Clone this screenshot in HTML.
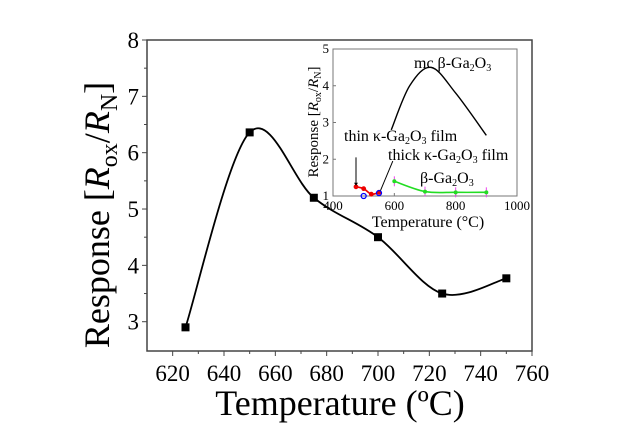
<!DOCTYPE html>
<html><head><meta charset="utf-8"><style>
body{margin:0;background:#fff}
svg{font-family:"Liberation Serif",serif}
</style></head><body>
<svg width="643" height="441" viewBox="0 0 643 441">
<g id="main"></g>
<g id="inset"></g>
</svg>
<script>
const mainX=[625,650,675,700,725,750];
const mainY=[2.9,6.36,5.2,4.5,3.5,3.77];
const mainXTicks=[620,640,660,680,700,720,740,760];
const mainYTicks=[3,4,5,6,7,8];
const insetXTicks=[400,600,800,1000];
const insetYTicks=[1,2,3,4,5];
const mcX=[590,650,720,800,900];
const mcY=[2.8,4.0,4.5,3.8,2.65];
const thinX=[475,500,525,550];
const thinY=[1.25,1.2,1.05,1.1];
const thickX=[500,550];
const thickY=[1.0,1.08];
const betaX=[600,700,800,900];
const betaY=[1.4,1.12,1.1,1.1];
const NS="http://www.w3.org/2000/svg";
function mk(p,t,a){const e=document.createElementNS(NS,t);for(const k in a)e.setAttribute(k,a[k]);p.appendChild(e);return e;}
function spline(pts){let d=`M${pts[0][0]},${pts[0][1]}`;for(let i=0;i<pts.length-1;i++){const p0=pts[Math.max(0,i-1)],p1=pts[i],p2=pts[i+1],p3=pts[Math.min(pts.length-1,i+2)];d+=` C${p1[0]+(p2[0]-p0[0])/6},${p1[1]+(p2[1]-p0[1])/6} ${p2[0]-(p3[0]-p1[0])/6},${p2[1]-(p3[1]-p1[1])/6} ${p2[0]},${p2[1]}`;}return d;}
// main
const M=document.getElementById('main');
const L=147,R=532,T=40,B=351,x0=610,x1=760,y0=2.48,y1=8;
const sx=v=>L+(v-x0)/(x1-x0)*(R-L), sy=v=>B-(v-y0)/(y1-y0)*(B-T);
let e=mk(M,'rect',{x:L,y:T,width:R-L,height:B-T,fill:'none',stroke:'#444','stroke-width':1.5});

mainXTicks.forEach(v=>{mk(M,'line',{x1:sx(v),x2:sx(v),y1:B,y2:B+5,stroke:'#444'});if(v<760)mk(M,'line',{x1:sx(v+10),x2:sx(v+10),y1:B,y2:B+3,stroke:'#444'});
 e=mk(M,'text',{x:sx(v),y:B+30,'text-anchor':'middle','font-size':23});e.textContent=v;
 });
mainYTicks.forEach(v=>{mk(M,'line',{x1:L-5,x2:L,y1:sy(v),y2:sy(v),stroke:'#444'});if(v<8)mk(M,'line',{x1:L-3,x2:L,y1:sy(v+0.5),y2:sy(v+0.5),stroke:'#444'});
 e=mk(M,'text',{x:L-8,y:sy(v)+8,'text-anchor':'end','font-size':23});e.textContent=v;
 });
const mp=mainX.map((v,i)=>[sx(v),sy(mainY[i])]);
e=mk(M,'path',{d:spline(mp),fill:'none',stroke:'#000','stroke-width':1.8});

mp.forEach(p=>{e=mk(M,'rect',{x:p[0]-4,y:p[1]-4,width:8,height:8,fill:'#000'});
 });
e=mk(M,'text',{x:340,y:415,'text-anchor':'middle','font-size':36});e.innerHTML='Temperature (ºC)';

e=mk(M,'text',{x:0,y:0,'text-anchor':'middle','font-size':36,transform:'translate(109,215) rotate(-90)'});
e.innerHTML='Response [<tspan font-style="italic">R</tspan><tspan font-size="24" dy="8">ox</tspan><tspan dy="-8">/</tspan><tspan font-style="italic">R</tspan><tspan font-size="24" dy="8">N</tspan><tspan dy="-8">]</tspan>';

// inset
const I=document.getElementById('inset');
const iL=333,iR=517,iT=49,iB=196;
const ix=v=>iL+(v-400)/600*(iR-iL), iy=v=>iB-(v-1)/4*(iB-iT);
e=mk(I,'rect',{x:iL,y:iT,width:iR-iL,height:iB-iT,fill:'#fff',stroke:'#777','stroke-width':1});

insetXTicks.forEach(v=>{mk(I,'line',{x1:ix(v),x2:ix(v),y1:iB,y2:iB-3,stroke:'#777'});
 e=mk(I,'text',{x:ix(v),y:iB+14,'text-anchor':'middle','font-size':13});e.textContent=v;
 });
insetYTicks.forEach(v=>{mk(I,'line',{x1:iL,x2:iL+3,y1:iy(v),y2:iy(v),stroke:'#777'});
 e=mk(I,'text',{x:iL-4,y:iy(v)+4,'text-anchor':'end','font-size':13});e.textContent=v;
 });
e=mk(I,'text',{x:428,y:227,'text-anchor':'middle','font-size':16});e.textContent='Temperature (°C)';

e=mk(I,'text',{x:0,y:0,'text-anchor':'middle','font-size':15,transform:'translate(318,122) rotate(-90)'});
e.innerHTML='Response [<tspan font-style="italic">R</tspan><tspan font-size="10" dy="3">ox</tspan><tspan dy="-3">/</tspan><tspan font-style="italic">R</tspan><tspan font-size="10" dy="3">N</tspan><tspan dy="-3">]</tspan>';

function series(xs,ys,col,name,w){const p=xs.map((v,i)=>[ix(v),iy(ys[i])]);e=mk(I,'path',{d:spline(p),fill:'none',stroke:col,'stroke-width':w});
 return p;}
series(mcX,mcY,'#000','mc-beta-line',1.4);
series(thinX,thinY,'#e00','thin-kappa-line',1.6).forEach(p=>{e=mk(I,'circle',{cx:p[0],cy:p[1],r:2.4,fill:'#e00'});
 });
thickX.forEach((v,i)=>{e=mk(I,'circle',{cx:ix(v),cy:iy(thickY[i]),r:2.5,fill:'none',stroke:'#00f','stroke-width':1.3});
 });
series(betaX,betaY,'#2d2','beta-line',1.6).forEach(p=>{mk(I,'line',{x1:p[0],x2:p[0],y1:p[1]-5,y2:p[1]+5,stroke:'#e4e','stroke-width':1});
 e=mk(I,'circle',{cx:p[0],cy:p[1],r:2,fill:'#2d2'});
 });
mk(I,'line',{x1:ix(475),y1:iy(2.05),x2:ix(475),y2:iy(1.3),stroke:'#000'});
mk(I,'path',{d:`M${ix(475)-2},${iy(1.36)} L${ix(475)},${iy(1.28)} L${ix(475)+2},${iy(1.36)}Z`,fill:'#000'});
mk(I,'line',{x1:ix(595),y1:iy(1.95),x2:ix(555),y2:iy(1.15),stroke:'#000'});
const labels=[[414,68,'mc β-Ga<tspan font-size="10" dy="3">2</tspan><tspan dy="-3">O</tspan><tspan font-size="10" dy="3">3</tspan>','mc-beta-label'],
[344,141,'thin κ-Ga<tspan font-size="10" dy="3">2</tspan><tspan dy="-3">O</tspan><tspan font-size="10" dy="3">3</tspan><tspan dy="-3"> film</tspan>','thin-kappa-label'],
[388,160,'thick κ-Ga<tspan font-size="10" dy="3">2</tspan><tspan dy="-3">O</tspan><tspan font-size="10" dy="3">3</tspan><tspan dy="-3"> film</tspan>','thick-kappa-label'],
[420,183,'β-Ga<tspan font-size="10" dy="3">2</tspan><tspan dy="-3">O</tspan><tspan font-size="10" dy="3">3</tspan>','beta-label']];
labels.forEach(l=>{e=mk(I,'text',{x:l[0],y:l[1],'font-size':16});e.innerHTML=l[2];
 });
</script>
</body></html>
